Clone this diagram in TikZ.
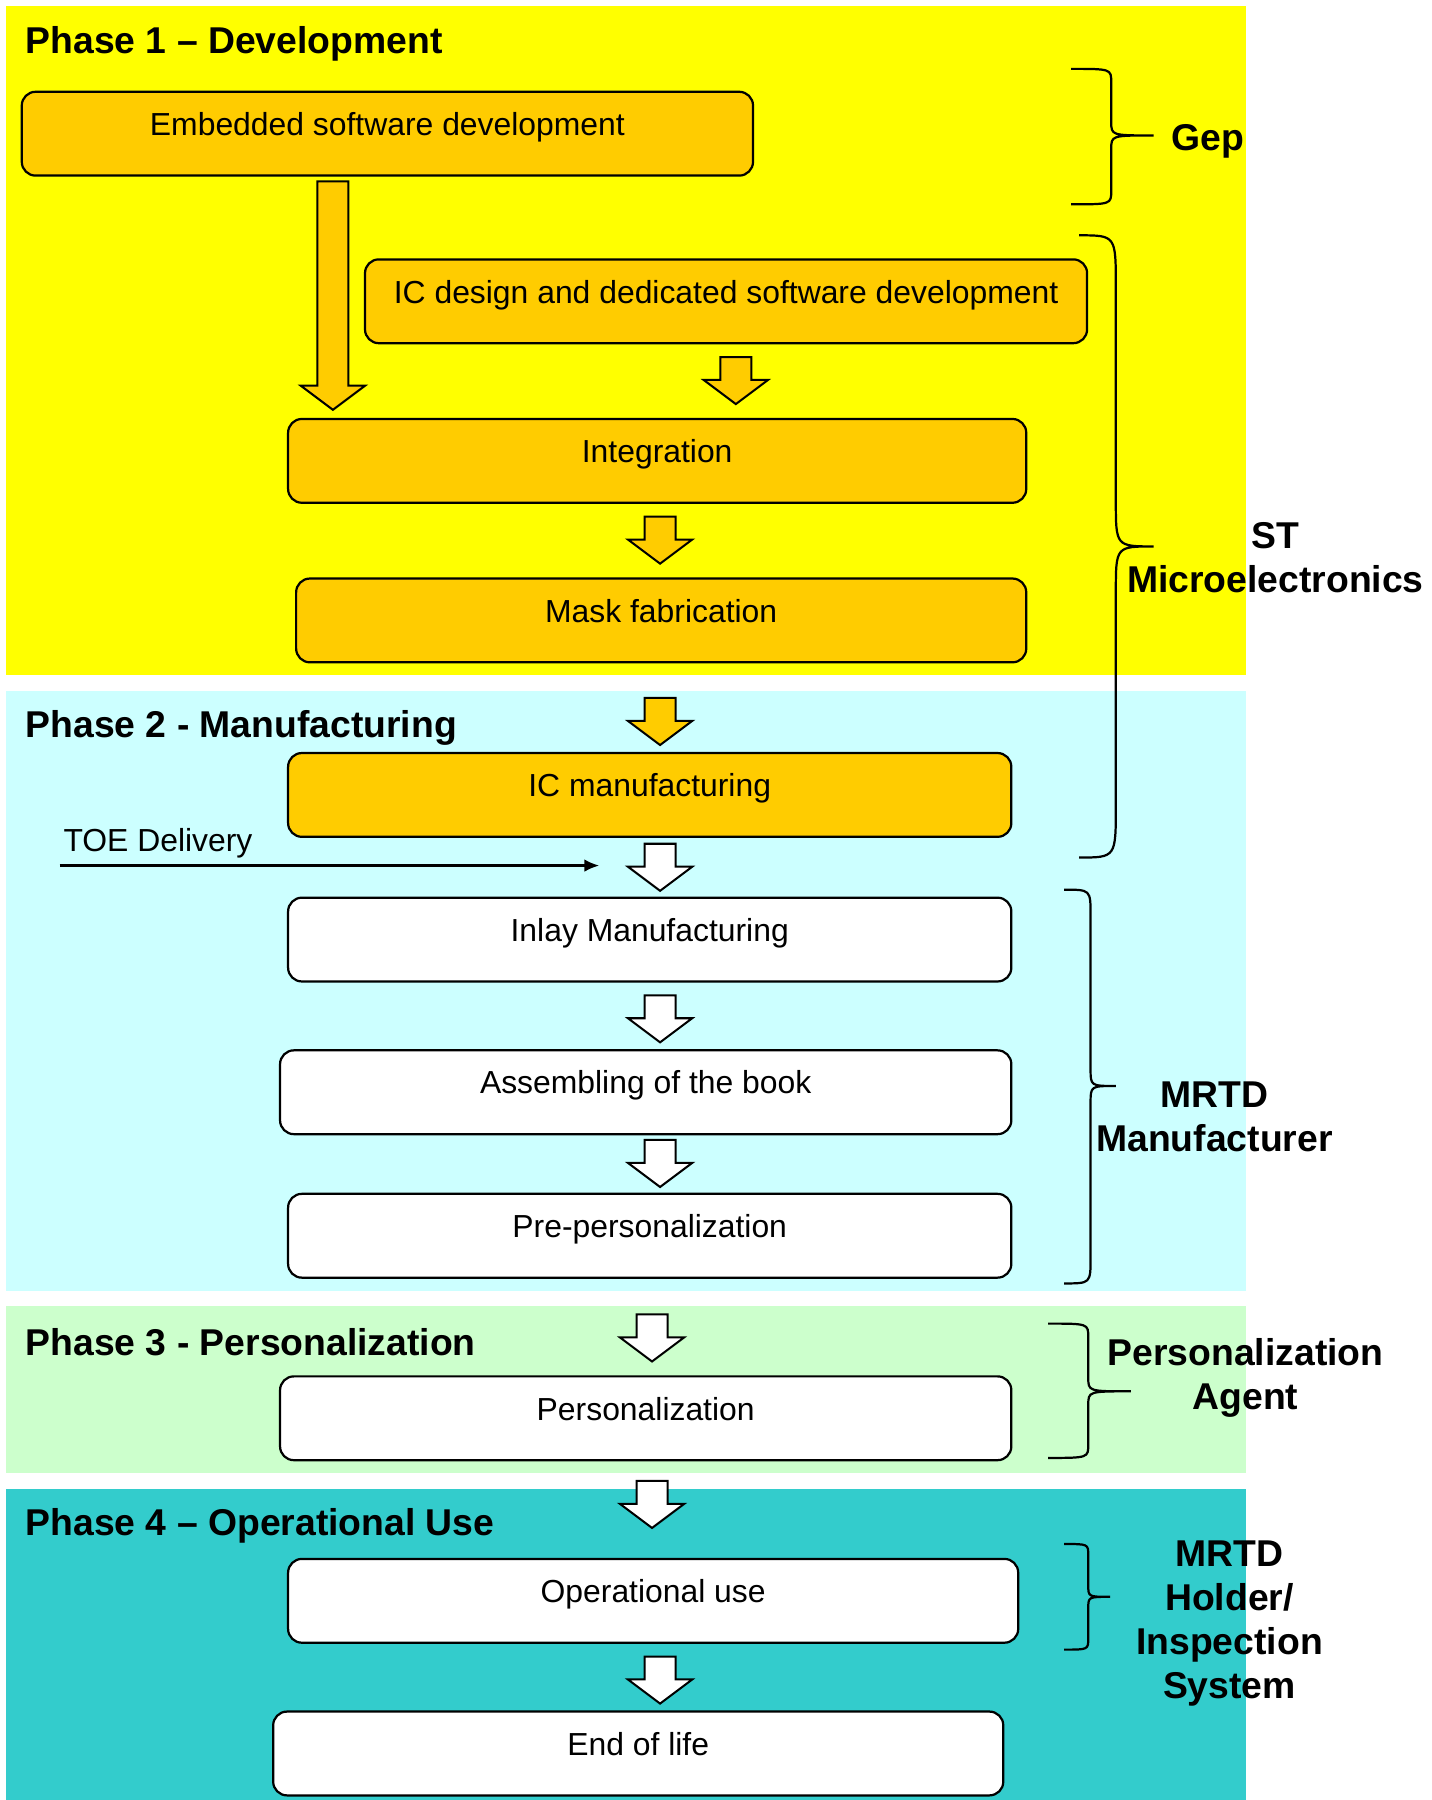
\documentclass[tikz,border=0pt]{standalone}
\usepackage{fontspec}
\setmainfont{Liberation Sans}
\usepackage{tikz}
\usetikzlibrary{arrows.meta}

\definecolor{phaseyellow}{HTML}{FFFF00}
\definecolor{phasecyan}{HTML}{CCFFFF}
\definecolor{phasegreen}{HTML}{CCFFCC}
\definecolor{phaseteal}{HTML}{33CCCC}
\definecolor{icorange}{HTML}{FFCC00}

% block arrow pointing down: [fill]{x}{top}{tip}
\newcommand{\blockarrow}[4][white]{%
  \filldraw[fill=#1, line width=1pt, line join=miter]
    (#2-0.27,#3) -- (#2+0.27,#3) -- (#2+0.27,#4+0.42) -- (#2+0.56,#4+0.42)
    -- (#2,#4) -- (#2-0.56,#4+0.42) -- (#2-0.27,#4+0.42) -- cycle;}

% right curly brace: {x end}{x spine}{x tip}{y top}{y tip}{y bottom}{r ends}{r tip}
\newcommand{\phasebrace}[8]{%
  \draw[line width=1.1pt] (#1,#4) .. controls (#2,#4) .. (#2,#4-#7) -- (#2,#5+#8)
    .. controls (#2,#5) .. (#3,#5) .. controls (#2,#5) .. (#2,#5-#8)
    -- (#2,#6+#7) .. controls (#2,#6) .. (#1,#6);}

\begin{document}
\begin{tikzpicture}[
    phasebox/.style={draw, line width=1.1pt, rounded corners=0.24cm, anchor=north west,
      inner ysep=0pt, text height=0.76cm, text depth=0.70cm,
      font=\fontsize{15.8}{19}\selectfont},
    icbox/.style={phasebox, fill=icorange},
    stepbox/.style={phasebox, fill=white},
    phasetitle/.style={anchor=west, inner sep=0pt, font=\fontsize{18.5}{22}\selectfont\bfseries},
    actor/.style={align=center, inner sep=0pt, font=\fontsize{18.5}{21.8}\selectfont\bfseries}
  ]
        \useasboundingbox (0,0) rectangle (24.94,-31.36);

        % phase backgrounds
        \fill[phaseyellow] (0.10,-0.10) rectangle (21.70,-11.76);
        \fill[phasecyan] (0.10,-12.04) rectangle (21.70,-22.50);
        \fill[phasegreen] (0.10,-22.76) rectangle (21.70,-25.66);
        \fill[phaseteal] (0.10,-25.94) rectangle (21.70,-31.36);

        \node[phasetitle] (phase1) at (0.44,-0.76) {Phase 1 – Development};
        \node[phasetitle] (phase2) at (0.44,-12.68) {Phase 2 - Manufacturing};
        \node[phasetitle] (phase3) at (0.44,-23.38) {Phase 3 - Personalization};
        \node[phasetitle] (phase4) at (0.44,-26.58) {Phase 4 – Operational Use};

        % steps
        \node[icbox, minimum width=12.74cm] (embedded) at (0.36,-1.58) {Embedded software development};
        \node[icbox, minimum width=12.58cm] (icdesign) at (6.34,-4.50) {IC design and dedicated software development};
        \node[icbox, minimum width=12.86cm] (integration) at (5.00,-7.28) {Integration};
        \node[icbox, minimum width=12.72cm] (mask) at (5.14,-10.06) {Mask fabrication};
        \node[icbox, minimum width=12.60cm] (icmanuf) at (5.00,-13.10) {IC manufacturing};
        \node[stepbox, minimum width=12.60cm] (inlay) at (5.00,-15.62) {Inlay Manufacturing};
        \node[stepbox, minimum width=12.74cm] (assembling) at (4.86,-18.28) {Assembling of the book};
        \node[stepbox, minimum width=12.60cm] (prepers) at (5.00,-20.78) {Pre-personalization};
        \node[stepbox, minimum width=12.74cm] (pers) at (4.86,-23.96) {Personalization};
        \node[stepbox, minimum width=12.72cm] (operational) at (5.00,-27.14) {Operational use};
        \node[stepbox, minimum width=12.72cm] (endoflife) at (4.74,-29.80) {End of life};

        % flow
        \blockarrow[icorange]{5.80}{-3.16}{-7.14}
        \blockarrow[icorange]{12.82}{-6.22}{-7.04}
        \blockarrow[icorange]{11.50}{-9.00}{-9.82}
        \blockarrow[icorange]{11.50}{-12.16}{-12.98}
        \blockarrow{11.50}{-14.70}{-15.52}
        \blockarrow{11.50}{-17.34}{-18.16}
        \blockarrow{11.50}{-19.86}{-20.68}
        \blockarrow{11.36}{-22.90}{-23.72}
        \blockarrow{11.36}{-25.80}{-26.62}
        \blockarrow{11.50}{-28.86}{-29.68}

        % delivery
        \coordinate (toestart) at (1.04,-15.08);
        \coordinate (toeend) at (10.44,-15.08);
        \node[anchor=west, inner sep=0pt, font=\fontsize{15.8}{19}\selectfont] (toe) at (1.10,-14.70) {TOE Delivery};
        \draw[-{Latex[length=0.26cm,width=0.22cm]}, line width=1.1pt] (toestart) -- (toeend);

        % actors
        \phasebrace{18.66}{19.36}{20.10}{-1.20}{-2.36}{-3.56}{0.24}{0.24}
        \phasebrace{18.80}{19.44}{20.10}{-4.10}{-9.52}{-14.94}{0.9}{0.8}
        \phasebrace{18.54}{19.00}{19.44}{-15.50}{-18.92}{-22.36}{0.45}{0.3}
        \phasebrace{18.26}{18.96}{19.70}{-23.06}{-24.24}{-25.40}{0.24}{0.24}
        \phasebrace{18.54}{18.96}{19.34}{-26.90}{-27.82}{-28.74}{0.2}{0.2}

        \node[actor, anchor=west] (gep) at (20.40,-2.46) {Gep};
        \node[actor] (st) at (22.22,-9.72) {ST\\Microelectronics};
        \node[actor] (mrtdmanuf) at (21.16,-19.46) {MRTD\\Manufacturer};
        \node[actor] (persagent) at (21.70,-24.01) {Personalization\\Agent};
        \node[actor] (holder) at (21.42,-28.28) {MRTD\\Holder/\\Inspection\\System};

    \end{tikzpicture}
\end{document}
